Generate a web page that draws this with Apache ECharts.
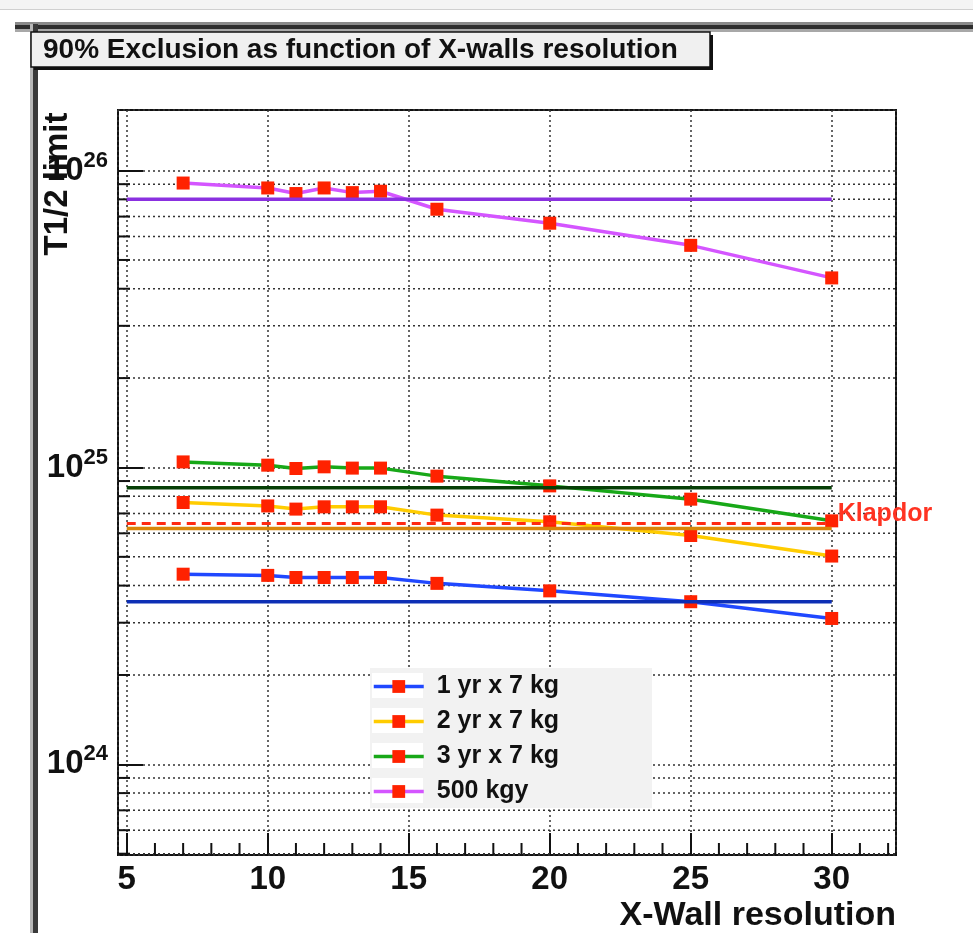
<!DOCTYPE html>
<html>
<head>
<meta charset="utf-8">
<script src="https://cdn.jsdelivr.net/npm/echarts@6/dist/echarts.min.js"></script>
<style>
  html, body { margin: 0; padding: 0; background: #ffffff; }
  #chart { width: 973px; height: 933px; }
</style>
</head>
<body>
<div id="chart"></div>
<script>
// X-wall resolution points at which the exclusion limit was computed
const resolution = [7, 10, 11, 12, 13, 14, 16, 20, 25, 30];

// 90% CL T1/2 limits per exposure
const limit1yr = [4.37e24, 4.33e24, 4.26e24, 4.26e24, 4.26e24, 4.26e24, 4.07e24, 3.84e24, 3.53e24, 3.10e24];
const limit2yr = [7.62e24, 7.42e24, 7.24e24, 7.37e24, 7.37e24, 7.37e24, 6.91e24, 6.56e24, 5.90e24, 5.03e24];
const limit3yr = [1.044e25, 1.018e25, 9.92e24, 1.005e25, 9.95e24, 9.95e24, 9.35e24, 8.67e24, 7.82e24, 6.61e24];
const limit500 = [9.08e25, 8.74e25, 8.37e25, 8.74e25, 8.43e25, 8.52e25, 7.41e25, 6.65e25, 5.60e25, 4.35e25];

// Reference (perfect-resolution) limits, drawn flat across the scanned range
const flatRange = [5, 30];
const flat1yr = 3.53e24;
const flat2yr = 6.23e24;
const flat3yr = 8.54e24;
const flat500 = 8.0e25;

// Klapdor claim
const klapdorValue = 6.48e24;
const klapdorName = 'Klapdor';

const seriesNames = ['1 yr x 7 kg', '2 yr x 7 kg', '3 yr x 7 kg', '500 kgy'];

// Axis ranges and minor ticks
const X_MIN = 4.69, X_MAX = 32.28;
const Y_MIN = 4.95e23, Y_MAX = 1.6e26;
const xMinorTicks = [6, 7, 8, 9, 11, 12, 13, 14, 16, 17, 18, 19, 21, 22, 23, 24, 26, 27, 28, 29, 31, 32];
const yMinorTicks = [
  5e23, 6e23, 7e23, 8e23, 9e23,
  2e24, 3e24, 4e24, 5e24, 6e24, 7e24, 8e24, 9e24,
  2e25, 3e25, 4e25, 5e25, 6e25, 7e25, 8e25, 9e25
];

const FONT = "'Liberation Sans', Arial, Helvetica, sans-serif";
const MARKER = '#ff2200';
const DOT = [2, 3];
const LINE_W = 3.5;

function curve(name, values, color) {
  return {
    name: name,
    type: 'line',
    data: resolution.map((x, i) => [x, values[i]]),
    symbol: 'rect',
    symbolSize: 13,
    itemStyle: { color: MARKER },
    lineStyle: { color: color, width: LINE_W },
    z: 3,
    silent: true
  };
}

function flat(value, color) {
  return {
    type: 'line',
    data: flatRange.map(x => [x, value]),
    symbol: 'none',
    lineStyle: { color: color, width: LINE_W },
    z: 4,
    silent: true
  };
}

const chart = echarts.init(document.getElementById('chart'), null, { renderer: 'canvas' });

const legendBoxes = seriesNames.map((_, i) => ({
  type: 'rect', z: 11, silent: true,
  shape: { x: 372, y: 673 + 35 * i, width: 51, height: 25 },
  style: { fill: '#ffffff' }
}));

chart.setOption({
  animation: false,
  backgroundColor: '#ffffff',
  grid: {
    left: 118, top: 110, width: 778, height: 745,
    show: true, borderColor: '#111111', borderWidth: 2,
    backgroundColor: 'transparent'
  },
  xAxis: {
    type: 'value',
    min: X_MIN, max: X_MAX,
    splitNumber: 5,
    axisLine: { show: false },
    axisTick: { show: true, inside: true, length: 22, lineStyle: { color: '#111', width: 2 } },
    splitLine: { show: true, lineStyle: { color: '#333', width: 1.5, type: DOT } },
    axisLabel: {
      show: true, showMinLabel: false, showMaxLabel: false,
      margin: 8, fontFamily: FONT, fontWeight: 'bold', fontSize: 33, color: '#111'
    }
  },
  yAxis: {
    type: 'log', logBase: 10,
    min: Y_MIN, max: Y_MAX,
    axisLine: { show: false },
    axisTick: { show: true, inside: true, length: 25, lineStyle: { color: '#111', width: 2 } },
    splitLine: { show: true, lineStyle: { color: '#333', width: 1.5, type: DOT } },
    axisLabel: {
      show: true, showMinLabel: false, showMaxLabel: false,
      margin: 10,
      formatter: v => '{b|10}{e|' + Math.round(Math.log10(v)) + '}',
      rich: {
        b: { fontFamily: FONT, fontWeight: 'bold', fontSize: 33, lineHeight: 42, color: '#111', verticalAlign: 'middle' },
        e: { fontFamily: FONT, fontWeight: 'bold', fontSize: 22, lineHeight: 22, color: '#111', verticalAlign: 'top' }
      }
    }
  },
  legend: {
    data: seriesNames,
    orient: 'vertical',
    left: 372, top: 674,
    padding: 0,
    itemWidth: 50, itemHeight: 16, itemGap: 10,
    selectedMode: false,
    z: 20,
    lineStyle: { width: LINE_W },
    textStyle: { fontFamily: FONT, fontWeight: 'bold', fontSize: 25, lineHeight: 25, color: '#111', padding: [0, 0, 0, 8] }
  },
  graphic: {
    elements: [
      // window frame
      { type: 'rect', silent: true, z: 0, shape: { x: 0, y: 0, width: 973, height: 9 }, style: { fill: '#f4f4f4' } },
      { type: 'rect', silent: true, z: 0, shape: { x: 0, y: 9, width: 973, height: 1 }, style: { fill: '#d0d0d0' } },
      { type: 'rect', silent: true, z: 0, shape: { x: 15, y: 22, width: 958, height: 3 }, style: { fill: '#8a8a8a' } },
      { type: 'rect', silent: true, z: 0, shape: { x: 15, y: 25, width: 958, height: 4 }, style: { fill: '#2e2e2e' } },
      { type: 'rect', silent: true, z: 0, shape: { x: 15, y: 29, width: 958, height: 3 }, style: { fill: '#a8a8a8' } },
      { type: 'rect', silent: true, z: 0, shape: { x: 30, y: 24, width: 3, height: 909 }, style: { fill: '#b8b8b8' } },
      { type: 'rect', silent: true, z: 0, shape: { x: 33, y: 24, width: 5, height: 909 }, style: { fill: '#3a3a3a' } },
      // title box with drop shadow
      { type: 'rect', silent: true, z: 10, shape: { x: 34, y: 35, width: 679, height: 35 }, style: { fill: '#111111' } },
      { type: 'rect', silent: true, z: 11, shape: { x: 31, y: 32, width: 679, height: 35 }, style: { fill: '#f0f0f0', stroke: '#111111', lineWidth: 1.5 } },
      { type: 'text', silent: true, z: 12, x: 43, y: 50,
        style: { text: '90% Exclusion as function of X-walls resolution', fill: '#111', font: 'bold 28px ' + FONT, verticalAlign: 'middle' } },
      // axis titles
      { type: 'text', silent: true, z: 12, x: 58, y: 184, rotation: Math.PI / 2,
        style: { text: 'T1/2 limit', fill: '#111', font: 'bold 33px ' + FONT, align: 'center', verticalAlign: 'middle' } },
      { type: 'text', silent: true, z: 12, x: 896, y: 916,
        style: { text: 'X-Wall resolution', fill: '#111', font: 'bold 34px ' + FONT, align: 'right', verticalAlign: 'middle' } },
      // legend background
      { type: 'rect', silent: true, z: 10, shape: { x: 370, y: 668, width: 282, height: 140 }, style: { fill: '#f2f2f2' } }
    ].concat(legendBoxes)
  },
  series: [
    // minor y ticks + dotted minor grid
    {
      type: 'custom', silent: true, z: 1,
      data: yMinorTicks.map(v => [X_MIN, v]),
      renderItem: function (params, api) {
        const a = api.coord([X_MIN, api.value(1)]);
        const b = api.coord([X_MAX, api.value(1)]);
        return {
          type: 'group',
          children: [
            { type: 'line', shape: { x1: a[0], y1: a[1], x2: b[0], y2: b[1] },
              style: { stroke: '#333', lineWidth: 1.5, lineDash: DOT } },
            { type: 'line', shape: { x1: a[0], y1: a[1], x2: a[0] + 12, y2: a[1] },
              style: { stroke: '#111', lineWidth: 2 } }
          ]
        };
      }
    },
    // minor x ticks
    {
      type: 'custom', silent: true, z: 1,
      data: xMinorTicks.map(x => [x, Y_MIN]),
      renderItem: function (params, api) {
        const p = api.coord([api.value(0), Y_MIN]);
        return { type: 'line', shape: { x1: p[0], y1: p[1], x2: p[0], y2: p[1] - 12 },
                 style: { stroke: '#111', lineWidth: 2 } };
      }
    },
    curve(seriesNames[0], limit1yr, '#2048ff'),
    curve(seriesNames[1], limit2yr, '#ffcc00'),
    curve(seriesNames[2], limit3yr, '#18a818'),
    curve(seriesNames[3], limit500, '#d455ff'),
    flat(flat1yr, '#0d2fb5'),
    flat(flat2yr, '#d8860a'),
    flat(flat3yr, '#063f06'),
    flat(flat500, '#8a30e0'),
    {
      name: klapdorName,
      type: 'line',
      data: flatRange.map(x => [x, klapdorValue]),
      symbol: 'none',
      z: 5,
      silent: true,
      lineStyle: { color: '#ff2a12', width: 3, type: [9, 6] },
      endLabel: {
        show: true, formatter: klapdorName, distance: 6, offset: [0, -9],
        color: '#ff3322', fontFamily: FONT, fontWeight: 'bold', fontSize: 25
      }
    }
  ]
});
</script>
</body>
</html>
